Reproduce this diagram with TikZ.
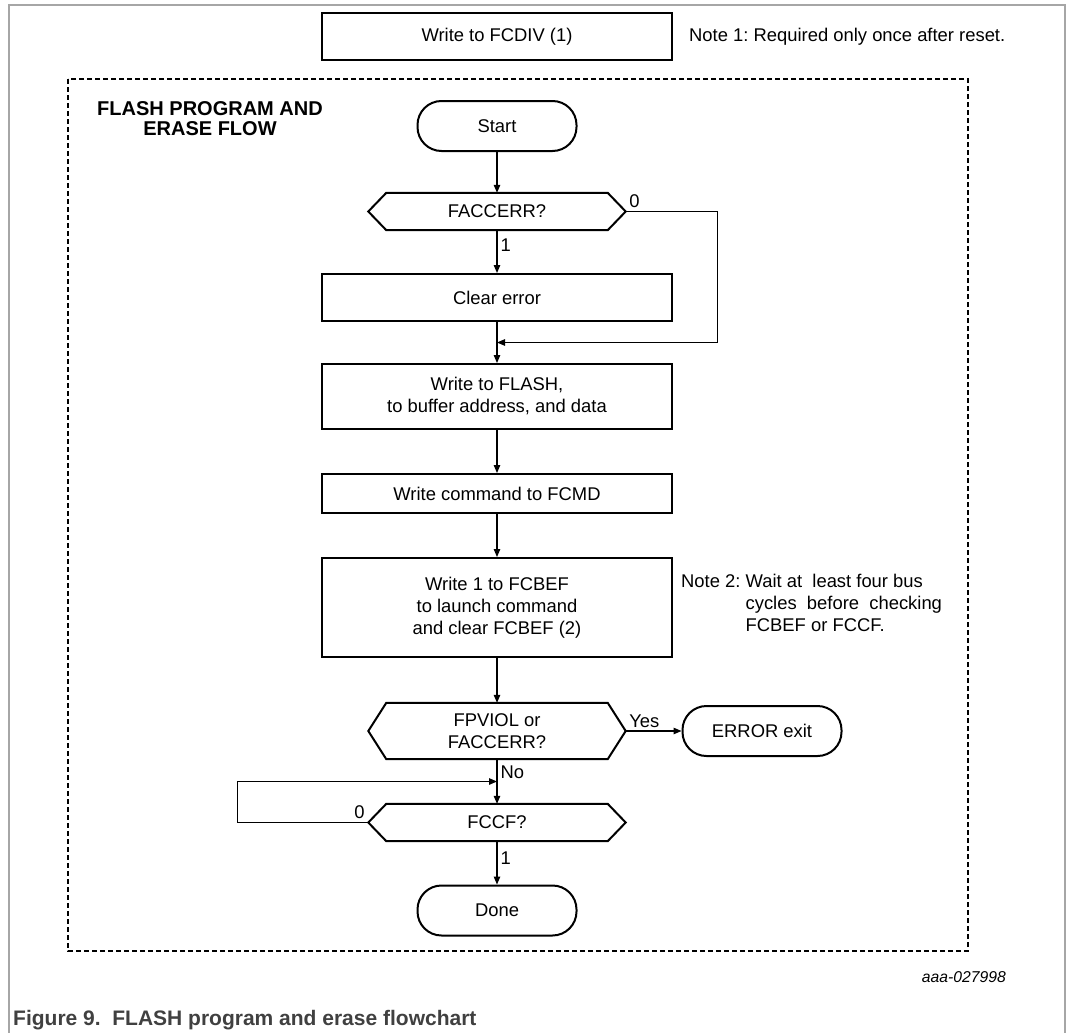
\documentclass[tikz,border=0pt]{standalone}
\usepackage{fontspec}
\setmainfont{Liberation Sans}
\usetikzlibrary{arrows.meta,calc}
\definecolor{framegrey}{HTML}{A6A6A6}
\definecolor{capgrey}{HTML}{404040}
\frenchspacing

\begin{document}
\begin{tikzpicture}[
  x=1pt, y=-1pt,
  font=\fontsize{18.4}{22}\selectfont,
  >={Triangle[length=8pt,width=6.5pt]},
  proc/.style={rectangle, draw=black, line width=2pt, minimum width=350pt, inner sep=0pt, align=center},
  term/.style={rectangle, rounded corners=24pt, draw=black, line width=2pt, minimum width=159pt, minimum height=50pt, inner sep=0pt},
  decide/.style={rectangle, minimum width=221pt, inner sep=0pt, align=center},
  hexline/.style={line width=2pt},
  arw/.style={->, line width=1.2pt},
  lbl/.style={inner sep=3pt},
  note/.style={inner sep=0pt, anchor=west},
  groupbox/.style={line width=2pt, dash pattern=on 5pt off 3pt},
  frameline/.style={line width=1.5pt, draw=framegrey}
  ]

\useasboundingbox (0,0) rectangle (1068,1033);
\draw [frameline] (9,1033) -- (9,5) -- (1065,5) -- (1065,1033);
\draw [groupbox] (68,79) rectangle (968,951);

\node [font=\fontsize{20}{19.5}\selectfont\bfseries, align=center] (title) at (210,118.5) {FLASH PROGRAM AND\\ERASE FLOW};

\node [term] (start) at (497,126) {Start};
\node [proc, minimum height=47pt, above of=start, node distance=89.5pt] (fcdiv) {Write to FCDIV (1)};
\node [note] (note1) at ([xshift=16pt]fcdiv.east) {Note 1: Required only once after reset.};

\node [decide, minimum height=37pt, below of=start, node distance=85.5pt] (faccerr) {FACCERR?};
\node [proc, minimum height=47pt, below of=faccerr, node distance=86pt] (clear) {Clear error};
\node [proc, minimum height=65pt, below of=clear, node distance=99pt] (flash) {Write to FLASH,\\to buffer address, and data};
\node [proc, minimum height=39pt, below of=flash, node distance=97pt] (fcmd) {Write command to FCMD};
\node [proc, minimum height=99pt, below of=fcmd, node distance=114pt] (fcbef) {Write 1 to FCBEF\\to launch command\\and clear FCBEF (2)};
\node [note] (note2) at ([xshift=8pt,yshift=2pt]fcbef.east) {\begin{tabular}{@{}l@{\ }l@{}}Note 2: & Wait at\ \ least four bus\\ & cycles\ \ before\ \ checking\\ & FCBEF or FCCF.\end{tabular}};

\node [decide, minimum height=56pt, below of=fcbef, node distance=123.5pt] (fpviol) {FPVIOL or\\FACCERR?};
\node [term, right of=fpviol, node distance=265pt] (errexit) {ERROR exit};
\node [decide, minimum height=37pt, below of=fpviol, node distance=91.5pt] (fccf) {FCCF?};
\node [term, below of=fccf, node distance=88pt] (done) {Done};

\node [font=\fontsize{15.7}{18}\selectfont\itshape, anchor=east, inner sep=0pt] (code) at (1006,977) {aaa-027998};
\node [font=\fontsize{21}{24}\selectfont\bfseries, text=capgrey, anchor=base west, inner sep=0pt] (caption) at (13,1025) {Figure 9.\ \ FLASH program and erase flowchart};

% decision outlines
\draw [hexline] ([xshift=-18pt]faccerr.west) -- (faccerr.north west) -- (faccerr.north east) -- ([xshift=18pt]faccerr.east) -- (faccerr.south east) -- (faccerr.south west) -- cycle;
\draw [hexline] ([xshift=-18pt]fpviol.west) -- (fpviol.north west) -- (fpviol.north east) -- ([xshift=18pt]fpviol.east) -- (fpviol.south east) -- (fpviol.south west) -- cycle;
\draw [hexline] ([xshift=-18pt]fccf.west) -- (fccf.north west) -- (fccf.north east) -- ([xshift=18pt]fccf.east) -- (fccf.south east) -- (fccf.south west) -- cycle;

\coordinate (merge1) at ($(clear.south)!0.5!(flash.north)$);
\coordinate (merge2) at ($(fpviol.south)!0.5!(fccf.north)$);

\draw [arw] (start) -- (faccerr);
\draw [arw] (faccerr) -- node [pos=0.35, right, lbl] {1} (clear);
\draw [arw] ([xshift=18pt]faccerr.east) node [above right, lbl] {0} -- ++(92,0) |- (merge1);
\draw [arw] (clear) -- (flash);
\draw [arw] (flash) -- (fcmd);
\draw [arw] (fcmd) -- (fcbef);
\draw [arw] (fcbef) -- (fpviol);
\draw [arw] ([xshift=18pt]fpviol.east) node [above right, lbl] {Yes} -- (errexit);
\draw [arw] (fpviol) -- node [pos=0.3, right, lbl] {No} (fccf);
\draw [arw] ([xshift=-18pt]fccf.west) node [above left, lbl] {0} -- ++(-131,0) |- (merge2);
\draw [arw] (fccf) -- node [pos=0.4, right, lbl] {1} (done);

\end{tikzpicture}
\end{document}
